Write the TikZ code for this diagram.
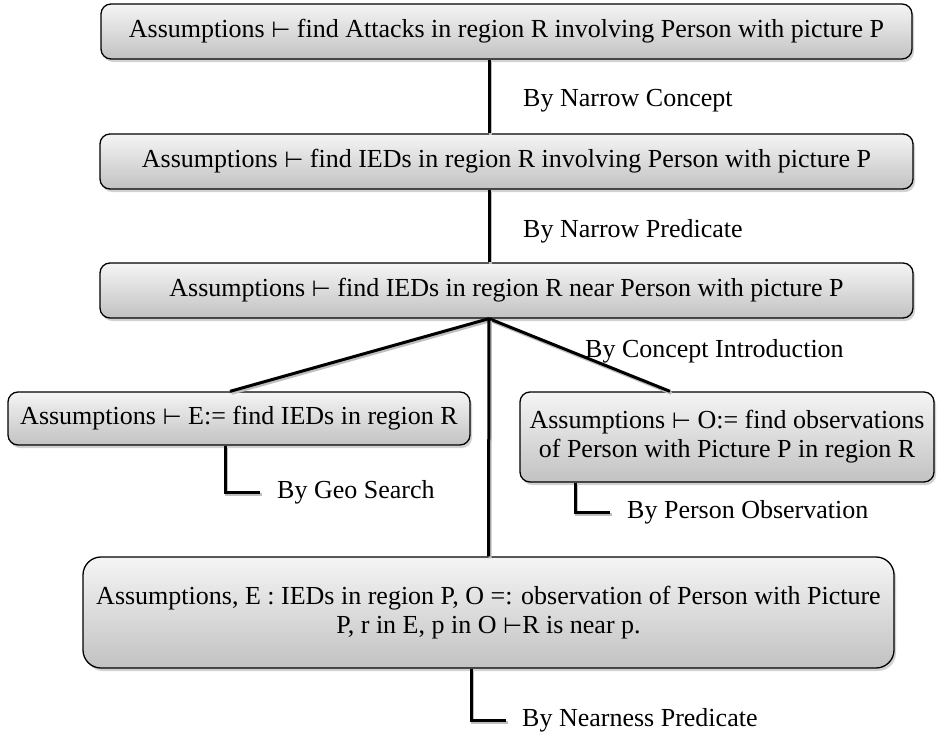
\documentclass[tikz,border=0pt]{standalone}
\usepackage{fontspec}
\setmainfont{Liberation Serif}
\newfontfamily\symfnt{DejaVu Sans}
\newcommand{\turn}{{\symfnt\fontsize{22}{26}\selectfont ⊢}}
\usetikzlibrary{shadows,calc}
\begin{document}
\begin{tikzpicture}[x=1pt,y=-1pt,
  box/.style={draw=black, line width=1.3pt, rounded corners=10pt,
    top color=white!96!black, bottom color=black!24,
    drop shadow={opacity=0.35, shadow xshift=2pt, shadow yshift=-3pt},
    align=center, inner sep=0pt, font=\fontsize{26}{29}\selectfont},
  lbl/.style={anchor=west, inner sep=0pt, font=\fontsize{26}{28}\selectfont},
  conn/.style={line width=3pt, draw=black,
    preaction={draw=black!25, line width=3pt, transform canvas={xshift=1.5pt, yshift=-2pt}}}
]
\useasboundingbox (0,0) rectangle (938,734);
\fill[white] (0,0) rectangle (938,734);

\node[box, minimum width=811pt, minimum height=55pt] (b1) at (506.5,31.5)
  {Assumptions \turn{} find Attacks in region R involving Person with picture P};
\node[box, minimum width=813pt, minimum height=55pt] (b2) at (506.5,161.5)
  {Assumptions \turn{} find IEDs in region R involving Person with picture P};
\node[box, minimum width=813pt, minimum height=55pt] (b3) at (506.5,290.5)
  {Assumptions \turn{} find IEDs in region R near Person with picture P};
\node[box, minimum width=462pt, minimum height=53pt] (b4) at (239,418.5)
  {Assumptions \turn{} E:= find IEDs in region R};
\node[box, minimum width=414pt, minimum height=90pt] (b5) at (727,437)
  {Assumptions \turn{} O:= find observations\\of Person with Picture P in region R};
\node[box, rounded corners=18pt, minimum width=811pt, minimum height=111pt] (b6) at (488.5,612.5)
  {Assumptions, E : IEDs in region P, O =: observation of Person with Picture\\P, r in E, p in O \turn R is near p.};

\node[lbl] (l1) at (523,101) {By Narrow Concept};
\node[lbl] (l2) at (523,231) {By Narrow Predicate};
\node[lbl] (l3) at (585,351) {By Concept Introduction};
\node[lbl] (l4) at (277,492) {By Geo Search};
\node[lbl] (l5) at (627,512) {By Person Observation};
\node[lbl] (l6) at (522,720) {By Nearness Predicate};

\draw[conn] ([xshift=-17.5pt]b1.south) -- ([xshift=-17.5pt]b2.north);
\draw[conn] ([xshift=-17.5pt]b2.south) -- ([xshift=-17.5pt]b3.north);
\draw[conn] ([xshift=-17.5pt]b3.south) -- ([xshift=-9pt]b4.north);
\draw[conn] ([xshift=-17.5pt]b3.south) -- ([xshift=-57pt]b5.north);
\draw[conn] ([xshift=-17.5pt]b3.south) -- (b6.north);
\draw[conn] ([xshift=-14pt]b4.south) |- ([xshift=-17pt]l4.west);
\draw[conn] ([xshift=-152pt]b5.south) |- ([xshift=-17pt]l5.west);
\draw[conn] ([xshift=-17.5pt]b6.south) |- ([xshift=-16pt]l6.west);
\end{tikzpicture}
\end{document}
